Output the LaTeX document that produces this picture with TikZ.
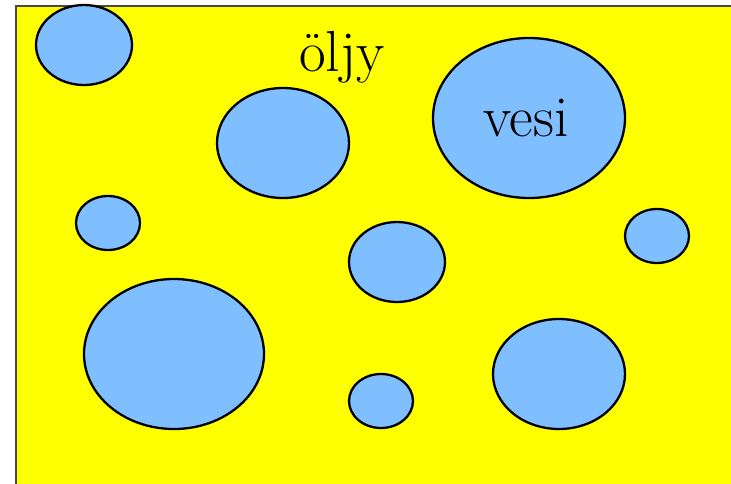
\documentclass[tikz,border=0pt]{standalone}
\definecolor{oilYellow}{RGB}{255, 255, 0}
\definecolor{waterBlue}{RGB}{128, 191, 255}
\definecolor{frameGray}{RGB}{72, 72, 76}
\tikzset{
  drop/.style n args={2}{ellipse, draw=black, line width=2.3pt, fill=waterBlue, minimum width=#1pt, minimum height=#2pt, inner sep=0pt},
  liquid/.style={font=\fontsize{58}{64}\selectfont, anchor=base, inner sep=0pt},
}
\usetikzlibrary{shapes.geometric}
\begin{document}
\begin{tikzpicture}[x=1pt, y=-1pt]
  \useasboundingbox (0, 0) rectangle (731, 483);
  % oil bath
  \draw[frameGray, line width=2pt, fill=oilYellow] (16, 6) rectangle (745, 495);
  % water drops
  \node[drop={96}{80}] (dropA) at (84, 45) {};
  \node[drop={132}{110}] (dropB) at (283, 143) {};
  \node[drop={192}{160}] (dropC) at (529, 118) {};
  \node[drop={64}{54}] (dropD) at (108, 223) {};
  \node[drop={96}{80}] (dropE) at (397, 262) {};
  \node[drop={64}{54}] (dropF) at (657, 236) {};
  \node[drop={180}{150}] (dropG) at (174, 354) {};
  \node[drop={64}{54}] (dropH) at (381, 401) {};
  \node[drop={132}{110}] (dropI) at (559, 374) {};
  % labels
  \node[liquid] (oilLabel) at (342, 71) {öljy};
  \node[liquid] (waterLabel) at (526, 136) {vesi};
\end{tikzpicture}
\end{document}
